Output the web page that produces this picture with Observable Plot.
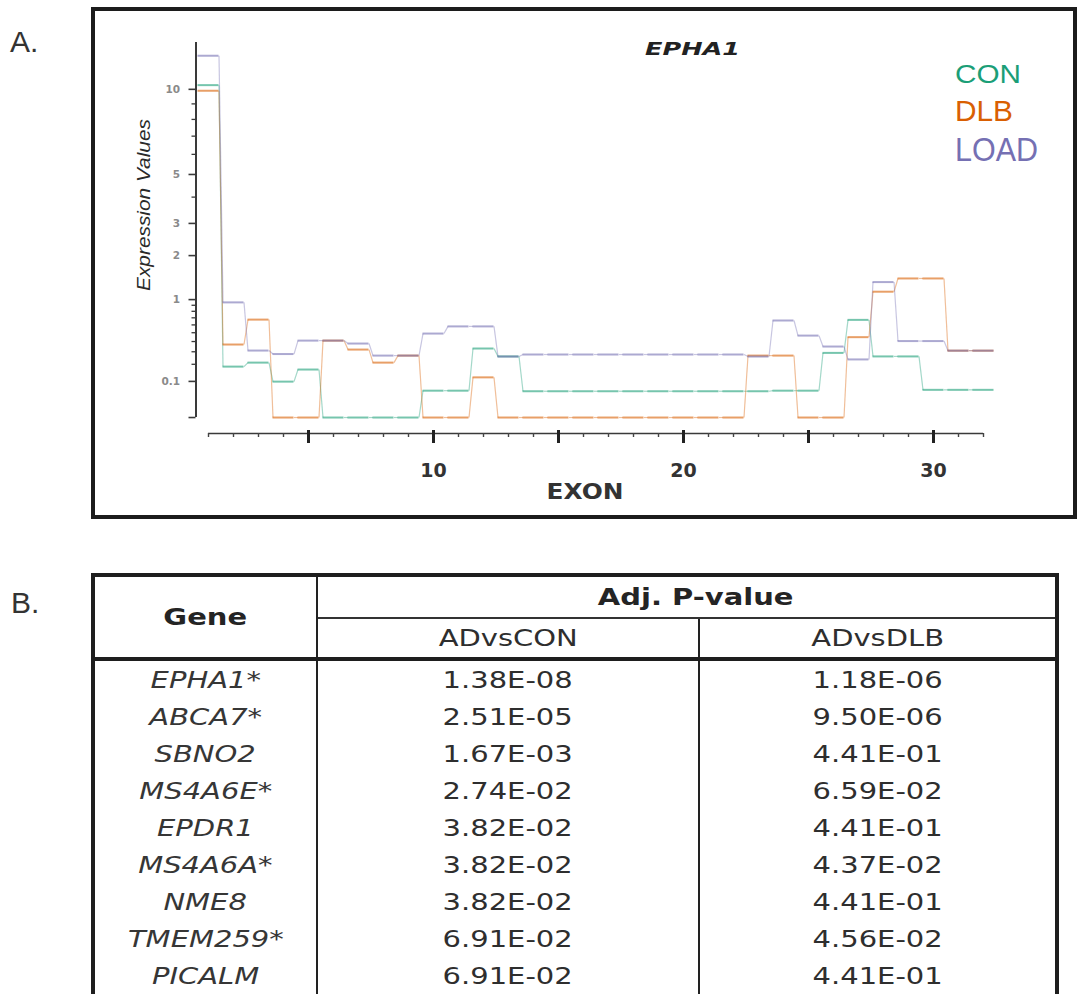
<!DOCTYPE html>
<html>
<head>
<meta charset="utf-8">
<script src="https://cdn.jsdelivr.net/npm/d3@7"></script>
<script src="https://cdn.jsdelivr.net/npm/@observablehq/plot@0.6"></script>
<style>
html, body { margin: 0; padding: 0; background: #fff; width: 1081px; height: 994px; overflow: hidden; }
#page { position: relative; width: 1081px; height: 994px; }
#boxA { position: absolute; left: 91px; top: 7px; width: 978px; height: 504px; border: 4px solid #1c1c1c; }
#chart { position: absolute; left: 0; top: 0; }
#overlay { position: absolute; left: 0; top: 0; pointer-events: none; }
#tbl { position: absolute; left: 91px; top: 573px; width: 964px; border-collapse: collapse; table-layout: fixed;
  border: 4px solid #1e1e1e; font-family: "DejaVu Sans", sans-serif; font-size: 23px; color: #2e2e2e; }
#tbl th, #tbl td { padding: 0; text-align: center; vertical-align: middle; }
#tbl th { font-weight: bold; color: #242424; }
#tbl .h1 th { height: 40px; }
#tbl .gene { border-right: 2px solid #222; border-bottom: 4px solid #1e1e1e; }
#tbl .adj { border-bottom: 2px solid #333; }
#tbl .adj .s { position: relative; left: 9px; }
#tbl .sub { font-weight: normal; height: 38px; border-bottom: 4px solid #1e1e1e; color: #2e2e2e; }
#tbl .sub.c1 { border-right: 2px solid #222; }
#tbl td { height: 37px; }
#tbl td.g { font-style: italic; border-right: 2px solid #222; color: #363636; }
#tbl td.v1 { border-right: 2px solid #222; }
.s { display: inline-block; transform: scaleX(1.26); white-space: nowrap; }
</style>
</head>
<body>
<div id="page">
  <div id="boxA"></div>
  <div id="chart"></div>
  <svg id="overlay" width="1081" height="994"></svg>
  <table id="tbl">
    <colgroup><col style="width:224px"><col style="width:382px"><col style="width:358px"></colgroup>
    <thead>
      <tr class="h1"><th class="gene" rowspan="2"><span class="s" id="geneHead"></span></th><th class="adj" colspan="2"><span class="s" id="adjHead"></span></th></tr>
      <tr class="h2"><th class="sub c1"><span class="s" id="sub1"></span></th><th class="sub c2"><span class="s" id="sub2"></span></th></tr>
    </thead>
    <tbody id="tb"></tbody>
  </table>
</div>
<script>
// ---------- Panel A data ----------
const exons = [1, 2, 3, 4, 5, 6, 7, 8, 9, 10, 11, 12, 13, 14, 15, 16,
               17, 18, 19, 20, 21, 22, 23, 24, 25, 26, 27, 28, 29, 30, 31, 32];
const seriesNames = ["CON", "DLB", "LOAD"];
const seriesColors = ["#1b9e77", "#d95f02", "#7570b3"];
const conValues = [10.3, 0.184, 0.212, 0.099, 0.165, 0.0056, 0.0056, 0.0056, 0.0056, 0.062, 0.062, 0.33, 0.26, 0.06, 0.06, 0.06,
                   0.06, 0.06, 0.06, 0.06, 0.06, 0.06, 0.06, 0.062, 0.062, 0.29, 0.67, 0.26, 0.26, 0.065, 0.065, 0.065];
const dlbValues = [9.9, 0.369, 0.674, 0.0056, 0.0056, 0.41, 0.32, 0.212, 0.267, 0.0056, 0.0056, 0.12, 0.0056, 0.0056, 0.0056, 0.0056,
                   0.0056, 0.0056, 0.0056, 0.0056, 0.0056, 0.0056, 0.267, 0.267, 0.0056, 0.0056, 0.448, 1.15, 1.43, 1.43, 0.31, 0.31];
const loadValues = [12.55, 0.95, 0.311, 0.28, 0.41, 0.41, 0.379, 0.267, 0.267, 0.49, 0.58, 0.58, 0.259, 0.276, 0.276, 0.276,
                    0.276, 0.276, 0.276, 0.276, 0.276, 0.276, 0.259, 0.661, 0.466, 0.349, 0.236, 1.35, 0.405, 0.405, 0.31, 0.31];
const yMajorTicks = [0.1, 1, 2, 3, 5, 10];
const yMajorLabels = ["0.1", "1", "2", "3", "5", "10"];
const yMinorTicks = [0.2, 0.3, 0.4, 0.5, 0.6, 0.7, 0.8, 0.9, 4, 6, 7, 8, 9];
const xMajorTicks = [5, 10, 15, 20, 25, 30];
const xLabelTicks = [10, 20, 30];
const yFloor = 0.0056;   // lowest plotted expression value
const yTop = 13.65;      // top of the value axis

// ---------- Panel B data ----------
const genes = ["EPHA1*", "ABCA7*", "SBNO2", "MS4A6E*", "EPDR1", "MS4A6A*", "NME8", "TMEM259*", "PICALM"];
const adVsCon = ["1.38E-08", "2.51E-05", "1.67E-03", "2.74E-02", "3.82E-02", "3.82E-02", "3.82E-02", "6.91E-02", "6.91E-02"];
const adVsDlb = ["1.18E-06", "9.50E-06", "4.41E-01", "6.59E-02", "4.41E-01", "4.37E-02", "4.41E-01", "4.56E-02", "4.41E-01"];

// ---------- build step segments ----------
const gap = 0.08;
const seriesValues = [conValues, dlbValues, loadValues];
const segs = [], links = [];
seriesNames.forEach((name, k) => {
  const vals = seriesValues[k];
  exons.forEach((e, i) => {
    segs.push({series: name, x1: e - 0.5 + gap, x2: e + 0.5 - gap, y: vals[i]});
    if (i < exons.length - 1) {
      links.push({series: name, x1: e + 0.5 - gap, y1: vals[i], x2: exons[i + 1] - 0.5 + gap, y2: vals[i + 1]});
    }
  });
});

const xDomain = [exons[0] - 0.5, exons[exons.length - 1] + 0.5];

const chart = Plot.plot({
  width: 1081,
  height: 530,
  marginLeft: 195.5,
  marginRight: 85.5,
  marginTop: 42,
  marginBottom: 97,
  x: {domain: xDomain},
  y: {type: "pow", exponent: 0.41, domain: [0, yTop]},
  color: {domain: seriesNames, range: seriesColors},
  style: {fontFamily: "DejaVu Sans, sans-serif", background: "transparent", overflow: "visible"},
  marks: [
    // y axis line
    Plot.ruleX([{x: xDomain[0], y1: yFloor, y2: yTop}], {x: "x", y1: "y1", y2: "y2", stroke: "#3a3a3a", strokeWidth: 2}),
    Plot.axisY({anchor: "left", ticks: yMajorTicks, tickSize: 7, tickPadding: 9, label: null,
      tickFormat: (d) => yMajorLabels[yMajorTicks.indexOf(d)], fontSize: 10.5, fontWeight: "bold",
      fill: "#8a8a8a", stroke: "#3a3a3a", strokeWidth: 1.6}),
    Plot.axisY({anchor: "left", ticks: yMinorTicks, tickSize: 4, label: null, tickFormat: () => "",
      stroke: "#3a3a3a", strokeWidth: 1.3}),
    Plot.axisY({anchor: "left", ticks: [yFloor], tickSize: 7, label: null, tickFormat: () => "",
      stroke: "#3a3a3a", strokeWidth: 1.6}),
    // x axis line
    Plot.ruleY([{y: 0, x1: exons[0], x2: exons[exons.length - 1]}], {y: "y", x1: "x1", x2: "x2", stroke: "#3a3a3a", strokeWidth: 1.6}),
    Plot.axisX({anchor: "bottom", ticks: exons, tickSize: 4, label: null, tickFormat: () => "",
      stroke: "#444", strokeWidth: 1.4}),
    Plot.axisX({anchor: "bottom", ticks: xMajorTicks, tickSize: 13, dy: -3, label: null, tickFormat: () => "",
      stroke: "#222", strokeWidth: 3}),
    Plot.axisX({anchor: "bottom", ticks: xLabelTicks, tickSize: 0, tickPadding: 30, label: null,
      fontSize: 19, fontWeight: "bold", fill: "#333", stroke: "none"}),
    // step lines
    Plot.link(links, {x1: "x1", y1: "y1", x2: "x2", y2: "y2", stroke: "series", strokeWidth: 1.2, strokeOpacity: 0.4}),
    Plot.ruleY(segs, {x1: "x1", x2: "x2", y: "y", stroke: "series", strokeWidth: 2, strokeOpacity: 0.6})
  ]
});
document.getElementById("chart").appendChild(chart);

// ---------- overlay labels ----------
const NS = "http://www.w3.org/2000/svg";
const ov = document.getElementById("overlay");
function addText(str, attrs) {
  const t = document.createElementNS(NS, "text");
  for (const k in attrs) t.setAttribute(k, attrs[k]);
  t.textContent = str;
  ov.appendChild(t);
  return t;
}
addText("A.", {x: 10, y: 52, "font-family": "Liberation Sans, Arial, sans-serif", "font-size": 30, fill: "#333"});
addText("B.", {x: 11, y: 613, "font-family": "Liberation Sans, Arial, sans-serif", "font-size": 30, fill: "#333"});
addText("EPHA1", {x: 645, y: 55, "font-family": "DejaVu Sans, sans-serif", "font-size": 18, "font-weight": "bold",
  "font-style": "italic", fill: "#222", textLength: 95, lengthAdjust: "spacingAndGlyphs"});
const legendY = [83, 121, 161];
const legendW = [66, 58, 83];
const legendSize = [26, 29, 34];
seriesNames.forEach((n, i) => {
  addText(n, {x: 955, y: legendY[i], "font-family": "Liberation Sans, Arial, sans-serif", "font-size": legendSize[i],
    fill: seriesColors[i], textLength: legendW[i], lengthAdjust: "spacingAndGlyphs"});
});
addText("Expression Values", {transform: "translate(150,205) rotate(-90)", "text-anchor": "middle",
  "font-family": "Liberation Sans Narrow, Liberation Sans, Arial, sans-serif", "font-size": 19, "font-style": "italic",
  fill: "#2a2a2a", textLength: 172, lengthAdjust: "spacingAndGlyphs"});
addText("EXON", {x: 585, y: 499, "text-anchor": "middle", "font-family": "DejaVu Sans, sans-serif", "font-size": 21,
  "font-weight": "bold", fill: "#333", textLength: 77, lengthAdjust: "spacingAndGlyphs"});

// ---------- table ----------
document.getElementById("geneHead").textContent = "Gene";
document.getElementById("adjHead").textContent = "Adj. P-value";
document.getElementById("sub1").textContent = "ADvsCON";
document.getElementById("sub2").textContent = "ADvsDLB";
const tb = document.getElementById("tb");
genes.forEach((g, i) => {
  const tr = document.createElement("tr");
  tr.innerHTML = `<td class="g"><span class="s">${g}</span></td><td class="v1"><span class="s">${adVsCon[i]}</span></td><td class="v2"><span class="s">${adVsDlb[i]}</span></td>`;
  tb.appendChild(tr);
});
</script>
</body>
</html>
